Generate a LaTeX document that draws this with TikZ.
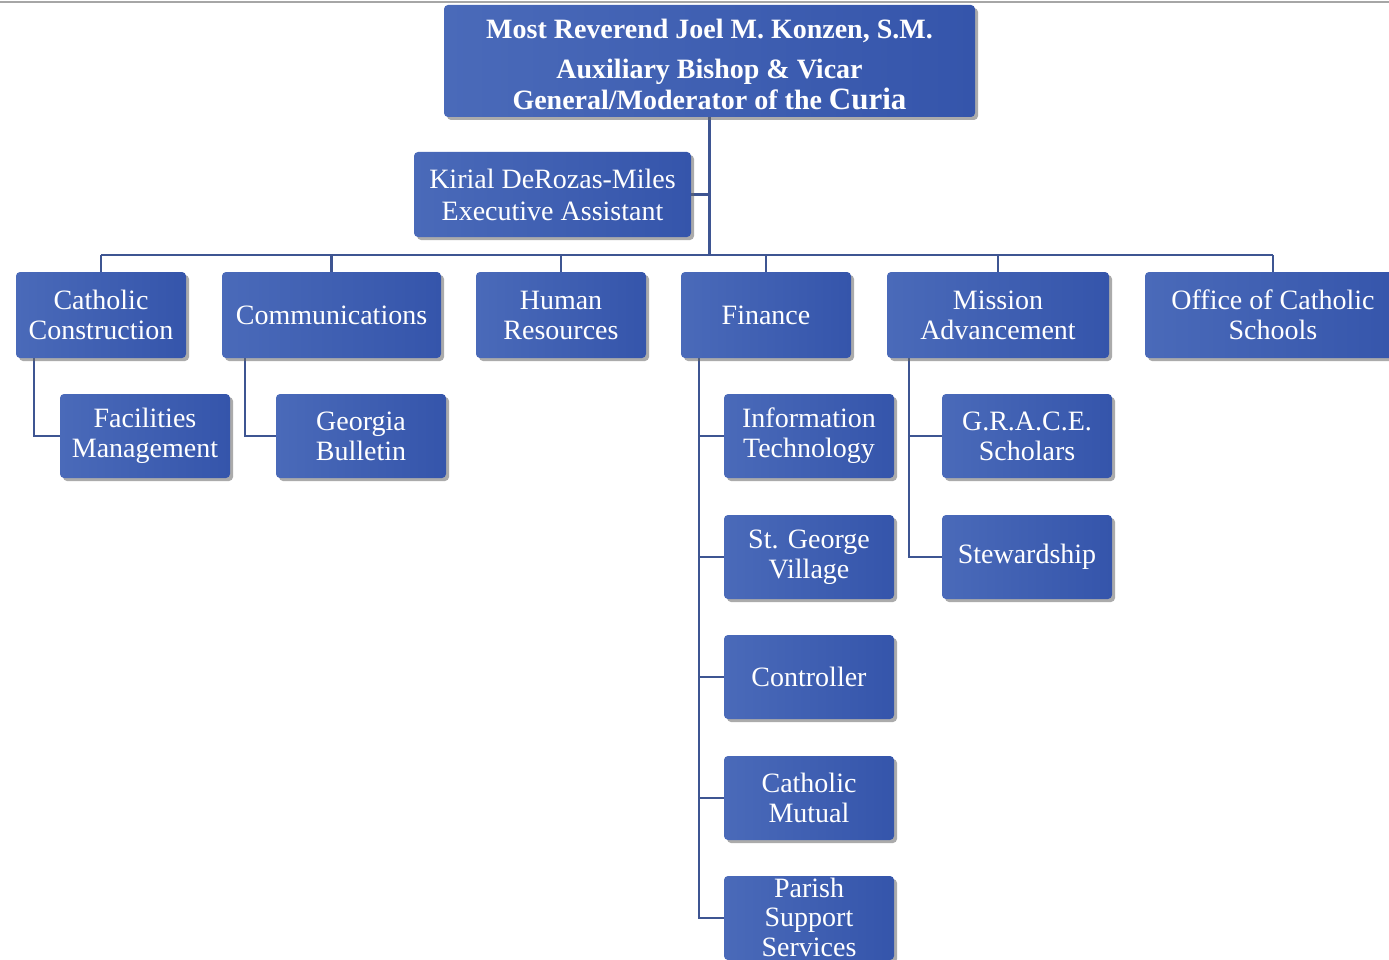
\documentclass[tikz,border=0pt]{standalone}
\usepackage{fontspec}
\setmainfont{Liberation Serif}
\usetikzlibrary{shadows,backgrounds}
\definecolor{boxL}{HTML}{4A6AB9}
\definecolor{boxR}{HTML}{3555AB}
\definecolor{lineC}{HTML}{3E5592}
\tikzset{
  orgbox/.style={rounded corners=4pt, left color=boxL, right color=boxR, text=white,
    align=center, inner sep=0pt, minimum height=86pt,
    font=\fontsize{28}{30}\selectfont,
    drop shadow={shadow xshift=3pt, shadow yshift=-3pt, fill=black!60, opacity=0.55}},
  conn/.style={draw=lineC, line width=2.6pt}
}
\begin{document}
\begin{tikzpicture}[x=1pt,y=-1pt]
\useasboundingbox (0,0) rectangle (1389,960);
\node[orgbox, minimum width=531pt, minimum height=112pt, font=\fontsize{28}{31}\selectfont] (top) at (709.5,61)
  {\rule{0pt}{27pt}\bfseries Most Reverend Joel M. Konzen, S.M.\\[9pt]
   \bfseries Auxiliary Bishop \& Vicar\\
   \bfseries General/Moderator of the {\fontsize{31}{31}\selectfont Curia}};
\node[orgbox, minimum width=277pt, minimum height=85pt, font=\fontsize{28}{32}\selectfont] (kir) at (552.5,194.5)
  {Kirial DeRozas-Miles\\Executive Assistant};
\node[orgbox, minimum width=170pt] (cc) at (101,315) {Catholic\\Construction};
\node[orgbox, minimum width=219pt] (comm) at (331.5,315) {Communications};
\node[orgbox, minimum width=170pt] (hr) at (561,315) {Human\\Resources};
\node[orgbox, minimum width=170pt] (fin) at (766,315) {Finance};
\node[orgbox, minimum width=222pt] (mis) at (998,315) {Mission\\Advancement};
\node[orgbox, minimum width=256pt] (ocs) at (1273,315) {Office of Catholic\\Schools};
\node[orgbox, minimum width=170pt, minimum height=84pt] (fac) at (145,436) {Facilities\\Management};
\node[orgbox, minimum width=170pt, minimum height=84pt] (geo) at (361,436) {Georgia\\Bulletin};
\node[orgbox, minimum width=170pt, minimum height=84pt] (it) at (809,436) {Information\\Technology};
\node[orgbox, minimum width=170pt, minimum height=84pt] (sgv) at (809,557) {St. George\\Village};
\node[orgbox, minimum width=170pt, minimum height=84pt] (ctl) at (809,677) {Controller};
\node[orgbox, minimum width=170pt, minimum height=84pt] (cm) at (809,798) {Catholic\\Mutual};
\node[orgbox, minimum width=170pt, minimum height=84pt, font=\fontsize{28}{29.5}\selectfont] (pss) at (809,918) {\raisebox{2pt}{Parish}\\\raisebox{2pt}{Support}\\\raisebox{2pt}{Services}};
\node[orgbox, minimum width=170pt, minimum height=84pt] (grace) at (1027,436) {G.R.A.C.E.\\Scholars};
\node[orgbox, minimum width=170pt, minimum height=84pt] (stew) at (1027,557) {Stewardship};
\coordinate (busL) at (101,255);
\coordinate (busR) at (1273,255);
\coordinate (ccx) at ([xshift=18pt]cc.south west);
\coordinate (comx) at ([xshift=23pt]comm.south west);
\coordinate (finx) at ([xshift=18pt]fin.south west);
\coordinate (misx) at ([xshift=22pt]mis.south west);
\coordinate (tlL) at (0,2);
\coordinate (tlR) at (1389,2);
\begin{scope}[on background layer]
\fill[white] (0,0) rectangle (1389,960);
\draw[black!35, line width=1.5pt] (tlL) -- (tlR);
\draw[conn] (top.south) -- (top.south |- busL);
\draw[conn] (kir.east) -- (kir.east -| top.south);
\draw[conn] (busL) -- (busR);
\foreach \n in {cc,comm,hr,fin,mis,ocs}{
  \draw[conn] (\n.north |- busL) -- (\n.north);
}
\draw[conn] (ccx) |- (fac.west);
\draw[conn] (comx) |- (geo.west);
\draw[conn] (finx) |- (pss.west);
\foreach \n in {it,sgv,ctl,cm}{
  \draw[conn] (\n.west -| finx) -- (\n.west);
}
\draw[conn] (misx) |- (stew.west);
\draw[conn] (grace.west -| misx) -- (grace.west);
\end{scope}
\end{tikzpicture}
\end{document}
